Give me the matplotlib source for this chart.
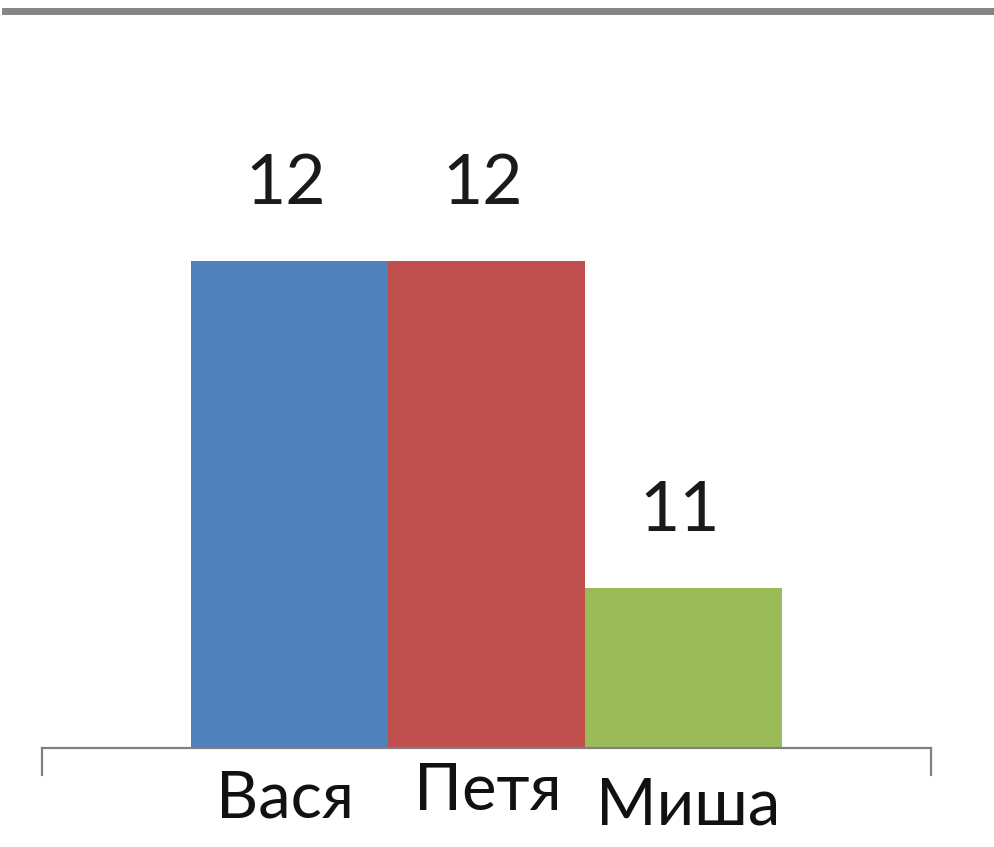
import numpy as np
import matplotlib
matplotlib.use('Agg')
import matplotlib.pyplot as plt
from matplotlib.lines import Line2D
import matplotlib.transforms as mtransforms

# Chart data
names = ['Вася', 'Петя', 'Миша']
scores = [12, 12, 11]
colors = ['#4F81BD', '#C0504D', '#9BBB59']

# label nudges (points) as in the original picture
name_dx = [-3, 1, 3]
name_dy = [0, 6, -5]

plt.rcParams['font.family'] = ['Lato', 'DejaVu Sans']

fig = plt.figure(figsize=(9.94, 8.47), dpi=100)
ax = fig.add_axes([0.0423, 0.1169, 0.8944, 0.8831])

x = np.arange(len(names))
ax.bar(x, scores, width=1.0, color=colors)
ax.set_xlim(-1.255, 3.255)
ax.set_ylim(10.51, 12.8)

# value labels above the bars
for xi, v in zip(x, scores):
    ax.annotate(str(v), (xi, v), xytext=(-3, 55), textcoords='offset points',
                ha='center', va='center', fontsize=50, color='#1a1a1a')

# category labels under the axis
trans = mtransforms.blended_transform_factory(ax.transData, ax.transAxes)
for xi, name, dx, dy in zip(x, names, name_dx, name_dy):
    ax.annotate(name, (xi, 0), xycoords=trans, xytext=(dx, -37 + dy),
                textcoords='offset points', ha='center', va='center',
                fontsize=47, color='#111111')

# axis styling: only the bottom line with end ticks
for s in ['top', 'left', 'right']:
    ax.spines[s].set_visible(False)
ax.spines['bottom'].set_color('#808080')
ax.spines['bottom'].set_linewidth(1.6)
ax.set_xticks([])
ax.set_yticks([])
for xe in [0, 1]:
    ax.plot([xe, xe], [0, -0.036], transform=ax.transAxes, color='#808080',
            lw=1.6, clip_on=False)

# thick gray line across the top of the slide
fig.add_artist(Line2D([0.005, 1.0], [1 - 11 / 847, 1 - 11 / 847],
                      color='#858585', lw=5))

fig.savefig('out.png', dpi=100)
